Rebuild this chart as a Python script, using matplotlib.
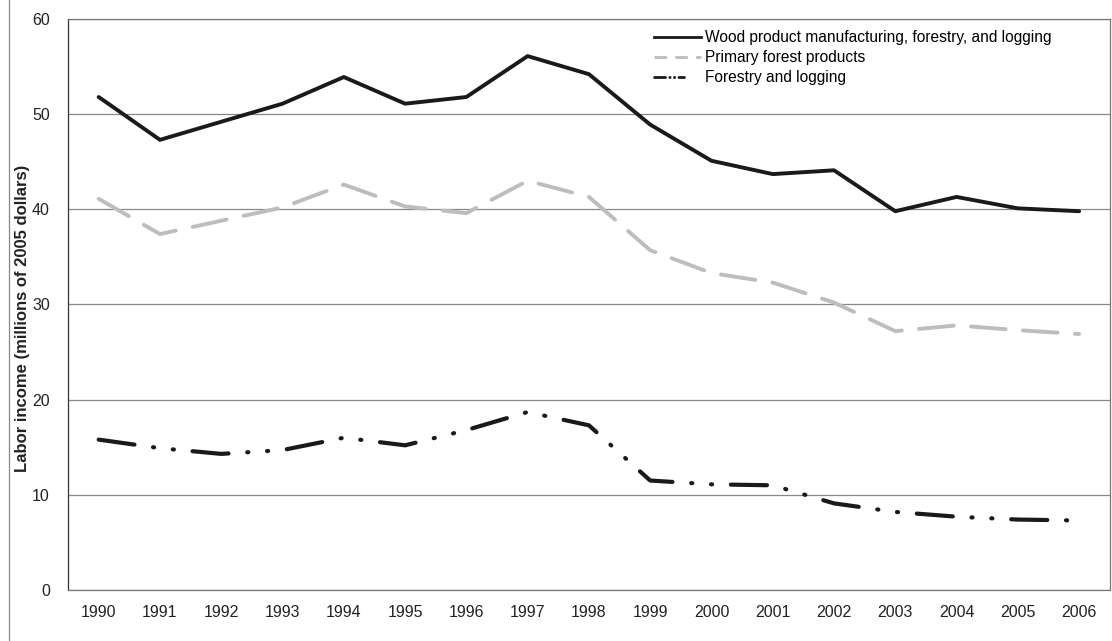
import matplotlib
matplotlib.use("Agg")
import matplotlib.pyplot as plt
from matplotlib.lines import Line2D

plt.rcParams['font.family'] = ['Liberation Sans', 'DejaVu Sans']
plt.rcParams['lines.scale_dashes'] = False

years = ["1990", "1991", "1992", "1993", "1994", "1995", "1996", "1997", "1998",
         "1999", "2000", "2001", "2002", "2003", "2004", "2005", "2006"]
wood_total = [51.8, 47.3, 49.2, 51.1, 53.9, 51.1, 51.8, 56.1, 54.2,
              48.9, 45.1, 43.7, 44.1, 39.8, 41.3, 40.1, 39.8]
primary = [41.1, 37.4, 38.8, 40.2, 42.6, 40.3, 39.6, 43.0, 41.3,
           35.7, 33.3, 32.3, 30.2, 27.2, 27.8, 27.3, 26.9]
forestry = [15.8, 14.9, 14.3, 14.7, 16.0, 15.2, 16.8, 18.7, 17.3,
            11.5, 11.1, 11.0, 9.1, 8.2, 7.7, 7.4, 7.3]
labels = ["Wood product manufacturing, forestry, and logging",
          "Primary forest products",
          "Forestry and logging"]
yticks = [0, 10, 20, 30, 40, 50, 60]

fig = plt.figure(figsize=(11.12, 6.41), dpi=100)
ax = fig.add_axes([0.0612, 0.0796, 0.9368, 0.8908])

x = list(range(len(years)))
l1, = ax.plot(x, wood_total, color='#1a1a1a', lw=2.8, solid_capstyle='round',
              solid_joinstyle='round', zorder=3)
l2, = ax.plot(x, primary, color='#bdbdbd', lw=2.8, dash_capstyle='round',
              dash_joinstyle='round', zorder=3)
l2.set_dashes((25, 12.5))
l3, = ax.plot(x, forestry, color='#1a1a1a', lw=3.0, dash_capstyle='round',
              dash_joinstyle='round', zorder=3)
l3.set_dashes((26, 13.5, 0.8, 13.5, 0.8, 13.5))

ax.set_xlim(-0.5, len(years) - 0.5)
ax.set_ylim(0, 60)
ax.set_yticks(yticks)
ax.set_xticks(x)
ax.set_xticklabels(years)
ax.tick_params(axis='both', length=0, labelsize=11.5, colors='#222222')
ax.tick_params(axis='x', pad=11)
ax.tick_params(axis='y', pad=13)
ax.yaxis.grid(True, color='#888888', lw=0.9)
ax.set_axisbelow(True)
for s in ['left', 'bottom', 'right', 'top']:
    ax.spines[s].set_color('#777777')
    ax.spines[s].set_linewidth(0.9)
ax.spines['left'].set_color('#333333')
ax.set_ylabel("Labor income (millions of 2005 dollars)", fontsize=12,
              fontweight='bold', color='#222222')
ax.yaxis.set_label_coords(-0.037, 0.476)

h1 = Line2D([], [], color='#1a1a1a', lw=2.0)
h2 = Line2D([], [], color='#bdbdbd', lw=2.0)
h2.set_dashes((9, 6))
h3 = Line2D([], [], color='#1a1a1a', lw=2.0, dash_capstyle='round')
h3.set_dashes((8, 3, 0.3, 3, 0.3, 3, 4, 100))
leg = ax.legend([h1, h2, h3], labels, loc='upper left',
                bbox_to_anchor=(0.549, 1.005), frameon=False, fontsize=11.2,
                handlelength=3.0, handletextpad=0.3, labelspacing=0.33)

fig.add_artist(Line2D([0.008, 0.008], [0.0, 1.0], color='#888888', lw=0.9,
                      transform=fig.transFigure))

fig.savefig("out.png", dpi=100)
